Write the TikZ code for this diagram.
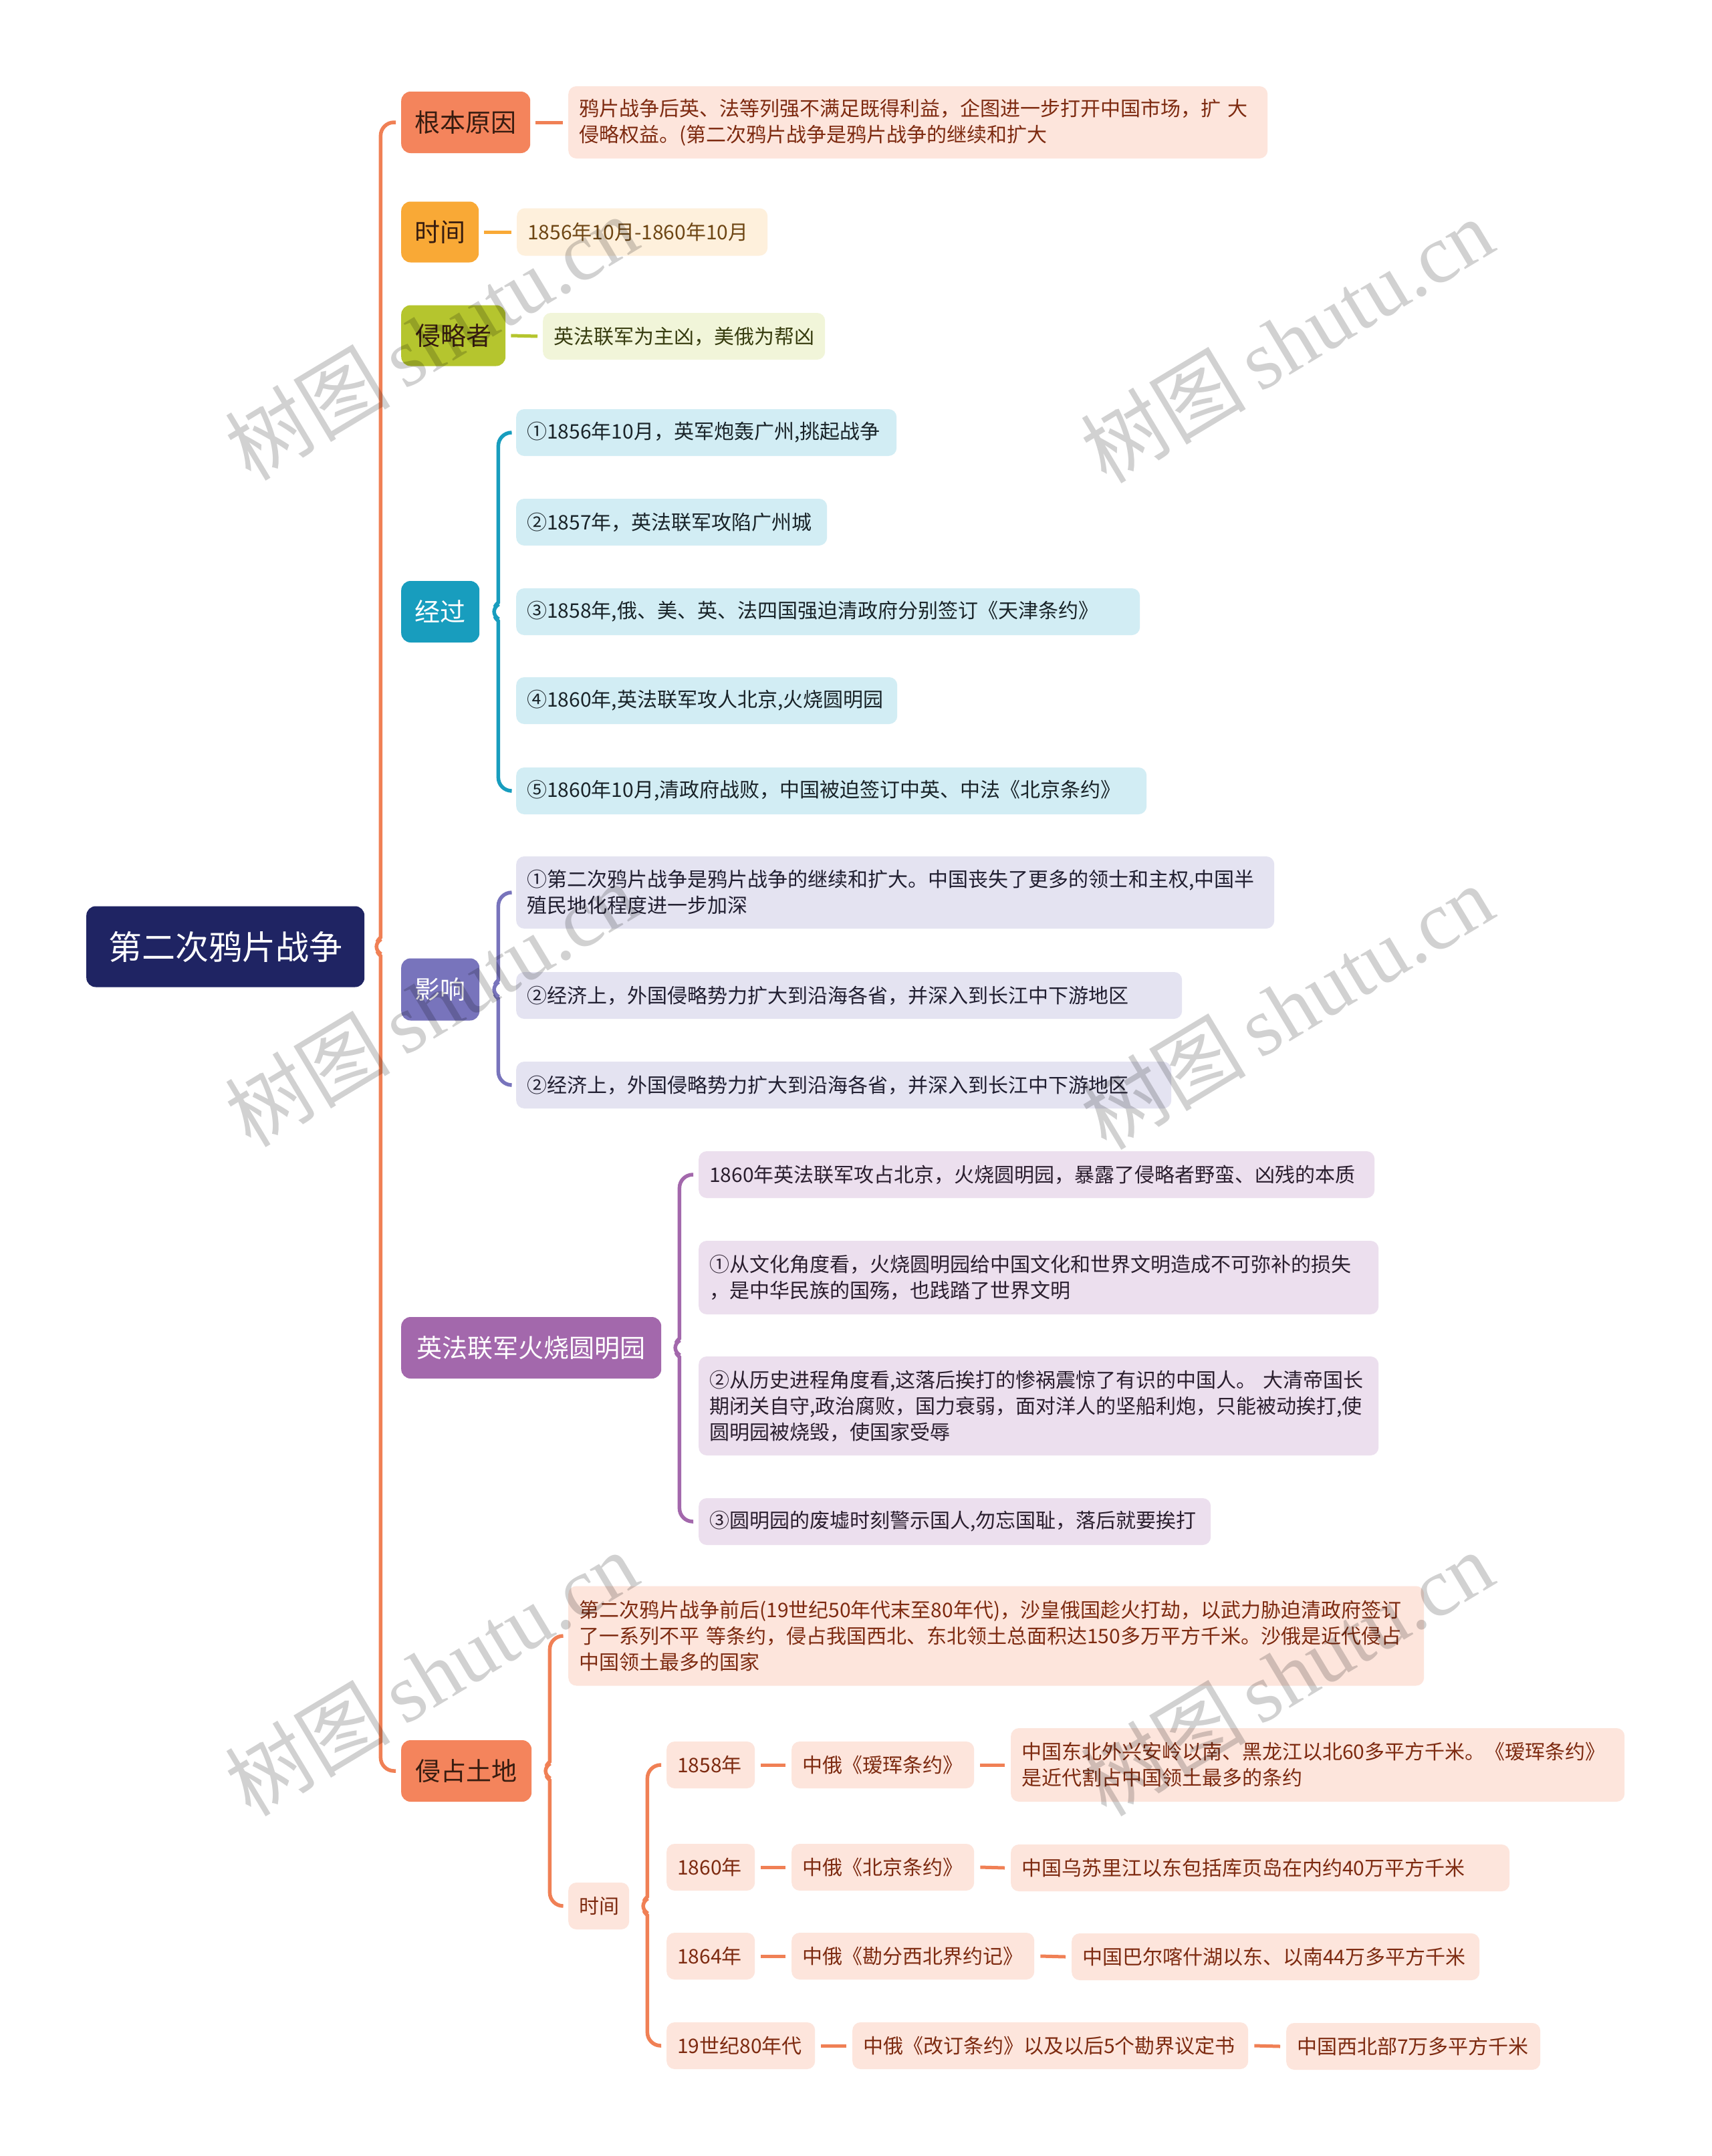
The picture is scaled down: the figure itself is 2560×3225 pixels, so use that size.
\documentclass[tikz,border=0pt]{standalone}
\usepackage{fontspec}
\setmainfont{Noto Sans CJK SC}
\newfontfamily\wmlatin{Liberation Serif}
\usetikzlibrary{calc}
\definecolor{rootc}{RGB}{31,36,99}
\definecolor{orangeMain}{RGB}{244,132,92}
\definecolor{orangeLine}{RGB}{240,128,85}
\definecolor{yellowMain}{RGB}{249,169,54}
\definecolor{greenMain}{RGB}{181,197,46}
\definecolor{tealMain}{RGB}{24,157,190}
\definecolor{purpleMain}{RGB}{120,116,188}
\definecolor{magentaMain}{RGB}{163,104,172}
\definecolor{orangeLeaf}{RGB}{253,229,220}
\definecolor{yellowLeaf}{RGB}{254,240,220}
\definecolor{greenLeaf}{RGB}{241,245,217}
\definecolor{tealLeaf}{RGB}{210,237,244}
\definecolor{purpleLeaf}{RGB}{228,227,241}
\definecolor{magentaLeaf}{RGB}{236,223,238}
\definecolor{orangeText}{RGB}{125,42,16}
\definecolor{timeText}{RGB}{110,70,20}
\definecolor{greenText}{RGB}{55,60,15}
\definecolor{tealText}{RGB}{25,35,40}
\definecolor{purpleText}{RGB}{32,30,48}
\definecolor{magentaText}{RGB}{42,30,46}
\definecolor{mainDark}{RGB}{55,28,16}
\newcommand{\mybrace}[5]{%
  \draw[#1] let \p1=([xshift=#5]#2.east), \p2=([xshift=-8pt]#3.west), \p3=([xshift=-8pt]#4.west), \n1={\x1+16pt} in
  (\p2) -- (\n1,\y2) -- (\n1,\y1+34pt)
  .. controls (\n1,\y1+14pt) and (\x1+6pt,\y1+4pt) .. (\p1)
  .. controls (\x1+6pt,\y1-4pt) and (\n1,\y1-14pt) .. (\n1,\y1-34pt)
  -- (\n1,\y3) -- (\p3);}
\begin{document}
\begin{tikzpicture}[x=1pt,y=-1pt,
  mainbox/.style={rounded corners=14pt, inner sep=0pt, anchor=west, align=center, font=\fontsize{38}{46}\selectfont},
  leafbox/.style={rounded corners=12pt, inner xsep=16pt, inner ysep=0pt, anchor=west, align=left, font=\fontsize{30}{39}\selectfont},
  conn/.style={line width=5pt},
  bline/.style={line width=5.5pt, rounded corners=20pt},
  wm/.style={rotate=31, text=black, text opacity=0.18, font=\fontsize{124}{130}\selectfont}]
\useasboundingbox[fill=white] (0,0) rectangle (2560,3225);

% root
\node[mainbox, fill=rootc, text=white, minimum width=416pt, minimum height=121pt, font=\fontsize{50}{60}\selectfont] (root) at (129,1416) {第二次鸦片战争};

% main topics
\node[mainbox, fill=orangeMain, text=mainDark, minimum width=193pt, minimum height=92pt] (yy) at (600,183) {根本原因};
\node[mainbox, fill=yellowMain, text=mainDark, minimum width=116pt, minimum height=91pt] (sj) at (600,347) {时间};
\node[mainbox, fill=greenMain, text=mainDark, minimum width=156pt, minimum height=91pt] (qlz) at (600,502) {侵略者};
\node[mainbox, fill=tealMain, text=white, minimum width=117pt, minimum height=92pt] (jg) at (600,915) {经过};
\node[mainbox, fill=purpleMain, text=white, minimum width=117pt, minimum height=93pt] (yx) at (600,1480) {影响};
\node[mainbox, fill=magentaMain, text=white, minimum width=389pt, minimum height=92pt] (hs) at (600,2016) {英法联军火烧圆明园};
\node[mainbox, fill=orangeMain, text=mainDark, minimum width=195pt, minimum height=92pt] (qz) at (600,2649) {侵占土地};

% leaves of single-child topics
\node[leafbox, fill=orangeLeaf, text=orangeText, text width=1014pt, minimum height=108pt] (yyl) at (850,183) {鸦片战争后英、法等列强不满足既得利益，企图进一步打开中国市场，扩~大\\侵略权益。(第二次鸦片战争是鸦片战争的继续和扩大};
\node[leafbox, fill=yellowLeaf, text=timeText, text width=343pt, minimum height=71pt] (sjl) at (773,347) {1856年10月-1860年10月};
\node[leafbox, fill=greenLeaf, text=greenText, text width=390pt, minimum height=70pt] (qlzl) at (812,503) {英法联军为主凶，美俄为帮凶};

% 经过
\node[leafbox, fill=tealLeaf, text=tealText, text width=537pt, minimum height=70pt] (p1) at (772,647) {①1856年10月，英军炮轰广州,挑起战争};
\node[leafbox, fill=tealLeaf, text=tealText, text width=433pt, minimum height=70pt] (p2) at (772,781) {②1857年，英法联军攻陷广州城};
\node[leafbox, fill=tealLeaf, text=tealText, text width=901pt, minimum height=70pt] (p3) at (772,915) {③1858年,俄、美、英、法四国强迫清政府分别签订《天津条约》};
\node[leafbox, fill=tealLeaf, text=tealText, text width=538pt, minimum height=70pt] (p4) at (772,1048) {④1860年,英法联军攻人北京,火烧圆明园};
\node[leafbox, fill=tealLeaf, text=tealText, text width=911pt, minimum height=70pt] (p5) at (772,1183) {⑤1860年10月,清政府战败，中国被迫签订中英、中法《北京条约》};

% 影响
\node[leafbox, fill=purpleLeaf, text=purpleText, text width=1102pt, minimum height=108pt] (i1) at (772,1335) {①第二次鸦片战争是鸦片战争的继续和扩大。中国丧失了更多的领士和主权,中国半\\殖民地化程度进一步加深};
\node[leafbox, fill=purpleLeaf, text=purpleText, text width=964pt, minimum height=70pt] (i2) at (772,1489) {②经济上，外国侵略势力扩大到沿海各省，并深入到长江中下游地区};
\node[leafbox, fill=purpleLeaf, text=purpleText, text width=948pt, minimum height=70pt] (i3) at (772,1623) {②经济上，外国侵略势力扩大到沿海各省，并深入到长江中下游地区};

% 火烧圆明园
\node[leafbox, fill=magentaLeaf, text=magentaText, text width=979pt, minimum height=70pt] (b1) at (1045,1757) {1860年英法联军攻占北京，火烧圆明园，暴露了侵略者野蛮、凶残的本质};
\node[leafbox, fill=magentaLeaf, text=magentaText, text width=985pt, minimum height=110pt] (b2) at (1045,1911) {①从文化角度看，火烧圆明园给中国文化和世界文明造成不可弥补的损失\\，是中华民族的国殇，也践踏了世界文明};
\node[leafbox, fill=magentaLeaf, text=magentaText, text width=985pt, minimum height=148pt] (b3) at (1045,2103) {②从历史进程角度看,这落后挨打的惨祸震惊了有识的中国人。~大清帝国长\\期闭关自守,政治腐败，国力衰弱，面对洋人的坚船利炮，只能被动挨打,使\\圆明园被烧毁，使国家受辱};
\node[leafbox, fill=magentaLeaf, text=magentaText, text width=734pt, minimum height=70pt] (b4) at (1045,2276) {③圆明园的废墟时刻警示国人,勿忘国耻，落后就要挨打};

% 侵占土地
\node[leafbox, fill=orangeLeaf, text=orangeText, text width=1248pt, minimum height=149pt] (qa) at (850,2447) {第二次鸦片战争前后(19世纪50年代末至80年代)，沙皇俄国趁火打劫，以武力胁迫清政府签订\\了一系列不平~等条约，侵占我国西北、东北领土总面积达150多万平方千米。沙俄是近代侵占\\中国领土最多的国家};
\node[leafbox, fill=orangeLeaf, text=orangeText, text width=59pt, minimum height=70pt] (qt) at (850,2851) {时间};

\node[leafbox, fill=orangeLeaf, text=orangeText, text width=100pt, minimum height=70pt] (r1y) at (997,2640) {1858年};
\node[leafbox, fill=orangeLeaf, text=orangeText, text width=241pt, minimum height=70pt] (r1t) at (1184,2640) {中俄《瑷珲条约》};
\node[leafbox, fill=orangeLeaf, text=orangeText, text width=886pt, minimum height=110pt] (r1l) at (1512,2640) {中国东北外兴安岭以南、黑龙江以北60多平方千米。《瑷珲条约》\\是近代割占中国领土最多的条约};

\node[leafbox, fill=orangeLeaf, text=orangeText, text width=100pt, minimum height=70pt] (r2y) at (997,2793) {1860年};
\node[leafbox, fill=orangeLeaf, text=orangeText, text width=241pt, minimum height=70pt] (r2t) at (1184,2793) {中俄《北京条约》};
\node[leafbox, fill=orangeLeaf, text=orangeText, text width=714pt, minimum height=70pt] (r2l) at (1512,2794) {中国乌苏里江以东包括库页岛在内约40万平方千米};

\node[leafbox, fill=orangeLeaf, text=orangeText, text width=100pt, minimum height=70pt] (r3y) at (997,2926) {1864年};
\node[leafbox, fill=orangeLeaf, text=orangeText, text width=331pt, minimum height=70pt] (r3t) at (1184,2926) {中俄《勘分西北界约记》};
\node[leafbox, fill=orangeLeaf, text=orangeText, text width=578pt, minimum height=70pt] (r3l) at (1603,2927) {中国巴尔喀什湖以东、以南44万多平方千米};

\node[leafbox, fill=orangeLeaf, text=orangeText, text width=190pt, minimum height=70pt] (r4y) at (997,3060) {19世纪80年代};
\node[leafbox, fill=orangeLeaf, text=orangeText, text width=560pt, minimum height=70pt] (r4t) at (1275,3060) {中俄《改订条约》以及以后5个勘界议定书};
\node[leafbox, fill=orangeLeaf, text=orangeText, text width=348pt, minimum height=70pt] (r4l) at (1924,3061) {中国西北部7万多平方千米};

% connectors (single child)
\draw[conn, draw=orangeLine] ([xshift=8pt]yy.east) -- ([xshift=-8pt]yyl.west);
\draw[conn, draw=yellowMain] ([xshift=8pt]sj.east) -- ([xshift=-8pt]sjl.west);
\draw[conn, draw=greenMain] ([xshift=8pt]qlz.east) -- ([xshift=-8pt]qlzl.west);
\draw[conn, draw=orangeLine] ([xshift=9pt]r1y.east) -- ([xshift=-9pt]r1t.west);
\draw[conn, draw=orangeLine] ([xshift=9pt]r1t.east) -- ([xshift=-9pt]r1l.west);
\draw[conn, draw=orangeLine] ([xshift=9pt]r2y.east) -- ([xshift=-9pt]r2t.west);
\draw[conn, draw=orangeLine] ([xshift=9pt]r2t.east) -- ([xshift=-9pt]r2l.west);
\draw[conn, draw=orangeLine] ([xshift=9pt]r3y.east) -- ([xshift=-9pt]r3t.west);
\draw[conn, draw=orangeLine] ([xshift=9pt]r3t.east) -- ([xshift=-9pt]r3l.west);
\draw[conn, draw=orangeLine] ([xshift=9pt]r4y.east) -- ([xshift=-9pt]r4t.west);
\draw[conn, draw=orangeLine] ([xshift=9pt]r4t.east) -- ([xshift=-9pt]r4l.west);

% braces
\mybrace{bline, draw=orangeLine}{root}{yy}{qz}{8pt}
\mybrace{bline, draw=tealMain}{jg}{p1}{p5}{12pt}
\mybrace{bline, draw=purpleMain}{yx}{i1}{i3}{12pt}
\mybrace{bline, draw=magentaMain}{hs}{b1}{b4}{11pt}
\mybrace{bline, draw=orangeLine}{qz}{qa}{qt}{11pt}
\mybrace{bline, draw=orangeLine}{qt}{r1y}{r4y}{11pt}

% watermarks
\node[wm] (wm1) at (645,505) {树图\,{\wmlatin shutu.cn}};
\node[wm] (wm2) at (1925,509) {树图\,{\wmlatin shutu.cn}};
\node[wm] (wm3) at (645,1502) {树图\,{\wmlatin shutu.cn}};
\node[wm] (wm4) at (1925,1506) {树图\,{\wmlatin shutu.cn}};
\node[wm] (wm5) at (645,2503) {树图\,{\wmlatin shutu.cn}};
\node[wm] (wm6) at (1925,2503) {树图\,{\wmlatin shutu.cn}};
\end{tikzpicture}
\end{document}
